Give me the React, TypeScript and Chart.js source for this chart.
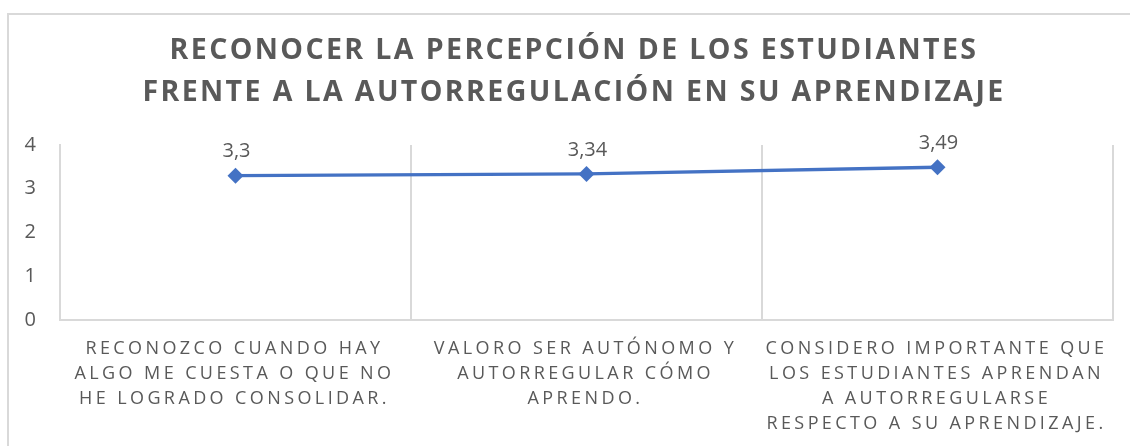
import React, { useEffect, useRef } from "react";
import { Chart, registerables } from "chart.js";

Chart.register(...registerables);

const titleLines = [
  "RECONOCER LA PERCEPCIÓN DE LOS ESTUDIANTES",
  "FRENTE A LA AUTORREGULACIÓN EN SU APRENDIZAJE",
];
const categories = [
  ["RECONOZCO CUANDO HAY", "ALGO ME CUESTA O QUE NO", "HE LOGRADO CONSOLIDAR."],
  ["VALORO SER AUTÓNOMO Y", "AUTORREGULAR CÓMO", "APRENDO."],
  [
    "CONSIDERO IMPORTANTE QUE",
    "LOS ESTUDIANTES APRENDAN",
    "A AUTORREGULARSE",
    "RESPECTO A SU APRENDIZAJE.",
  ],
];
const values = [3.3, 3.34, 3.49];
const valueLabels = ["3,3", "3,34", "3,49"];
const yMin = 0;
const yMax = 4;
const yStep = 1;

const TEXT = "#595959";
const GRID = "#d9d9d9";
const LINE = "#4472C4";

const decorPlugin = {
  id: "decor",
  beforeDraw(chart: any) {
    const ctx = chart.ctx;
    ctx.save();
    ctx.strokeStyle = GRID;
    ctx.lineWidth = 2;
    ctx.beginPath();
    ctx.moveTo(8, 460);
    ctx.lineTo(8, 14);
    ctx.lineTo(1140, 14);
    ctx.stroke();
    ctx.restore();
  },
  afterDraw(chart: any) {
    const ctx = chart.ctx;
    const xs = chart.scales.x;
    const meta = chart.getDatasetMeta(0);
    ctx.save();
    ctx.fillStyle = TEXT;
    ctx.textAlign = "center";
    ctx.textBaseline = "middle";
    // title
    ctx.font = "bold 28.5px 'Open Sans'";
    (ctx as any).letterSpacing = "2.4px";
    titleLines.forEach((t, i) => {
      ctx.fillText(t, 574, 51 + i * 42);
    });
    // category labels
    ctx.font = "18px 'Open Sans'";
    (ctx as any).letterSpacing = "3.4px";
    categories.forEach((lines, i) => {
      const cx = xs.getPixelForValue(i) - 1;
      lines.forEach((l, j) => {
        ctx.fillText(l, cx, 349 + j * 25);
      });
    });
    // data labels
    ctx.font = "20px 'Open Sans'";
    (ctx as any).letterSpacing = "0px";
    meta.data.forEach((pt: any, i: number) => {
      ctx.fillText(valueLabels[i], pt.x + 1, pt.y - 24);
    });
    ctx.restore();
  },
};

export default function App() {
  const ref = useRef<HTMLCanvasElement>(null);
  useEffect(() => {
    if (!ref.current) return;
    const chart = new Chart(ref.current, {
      type: "line",
      data: {
        labels: categories.map((c) => c.join(" ")),
        datasets: [
          {
            data: values,
            borderColor: LINE,
            backgroundColor: LINE,
            borderWidth: 3.5,
            pointStyle: "rectRot",
            pointRadius: 8,
            pointBorderWidth: 0,
            tension: 0,
          },
        ],
      },
      options: {
        responsive: false,
        animation: false,
        layout: { padding: { left: 0, top: 145, right: 17, bottom: 126 } },
        plugins: {
          legend: { display: false },
          title: { display: false },
          tooltip: { enabled: false },
        },
        scales: {
          x: {
            offset: true,
            ticks: { display: false },
            grid: {
              display: true,
              offset: true,
              color: GRID,
              lineWidth: 2,
              drawTicks: false,
            },
            border: { display: true, color: GRID, width: 2 },
            afterFit: (s: any) => {
              s.height = 0;
            },
          },
          y: {
            min: yMin,
            max: yMax,
            ticks: {
              stepSize: yStep,
              color: TEXT,
              padding: 16,
              font: { family: "'Open Sans'", size: 20 },
            },
            grid: { display: false },
            border: { display: true, color: GRID, width: 2 },
            afterFit: (s: any) => {
              s.width = 60;
            },
          },
        },
      },
      plugins: [decorPlugin],
    });
    return () => chart.destroy();
  }, []);
  return (
    <canvas
      ref={ref}
      width={1130}
      height={446}
      style={{ position: "absolute", left: 0, top: 0, display: "block" }}
    />
  );
}
